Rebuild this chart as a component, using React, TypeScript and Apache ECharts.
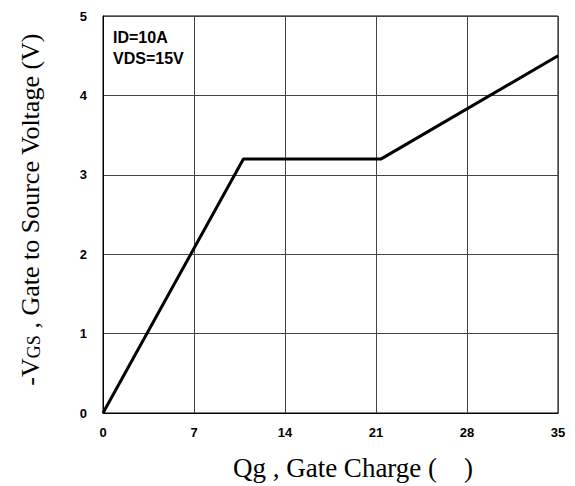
import React, { useEffect, useRef } from "react";
import * as echarts from "echarts";

const qg = [0, 10.8, 21.4, 35];
const vgs = [0, 3.2, 3.2, 4.5];
const xTicks = [0, 7, 14, 21, 28, 35];
const yTicks = [0, 1, 2, 3, 4, 5];
const notes = ["ID=10A", "VDS=15V"];

export default function App() {
  const ref = useRef<HTMLDivElement>(null);
  useEffect(() => {
    if (!ref.current) return;
    const chart = echarts.init(ref.current, undefined, { renderer: "svg" });
    const serif = "'Liberation Serif', 'Times New Roman', serif";
    const sans = "'Liberation Sans', Arial, sans-serif";
    chart.setOption({
      animation: false,
      backgroundColor: "#fff",
      grid: {
        left: 103,
        right: 17,
        top: 16,
        bottom: 72,
        show: true,
        borderColor: "#000",
        borderWidth: 1,
        containLabel: false,
      },
      xAxis: {
        type: "value",
        min: xTicks[0],
        max: xTicks[xTicks.length - 1],
        interval: 7,
        name: "Qg , Gate Charge (\u00A0\u00A0\u00A0\u00A0)",
        nameLocation: "middle",
        nameGap: 41,
        nameTextStyle: {
          fontFamily: serif,
          fontSize: 27,
          color: "#000",
          padding: [0, 0, 0, 45],
        },
        axisLine: { show: true, lineStyle: { color: "#000", width: 1 } },
        axisTick: { show: false },
        axisLabel: {
          color: "#000",
          fontFamily: sans,
          fontWeight: "bold",
          fontSize: 13,
          margin: 13,
        },
        splitLine: { show: true, lineStyle: { color: "#444", width: 1 } },
      },
      yAxis: {
        type: "value",
        min: yTicks[0],
        max: yTicks[yTicks.length - 1],
        interval: 1,
        name: "{a|-V}{b|GS}{a| , Gate to Source Voltage (V)}",
        nameLocation: "middle",
        nameRotate: 90,
        nameGap: 60,
        nameTextStyle: {
          color: "#000",
          padding: [0, 0, 0, 10],
          rich: {
            a: { fontFamily: serif, fontSize: 26, color: "#000", verticalAlign: "bottom", lineHeight: 28 },
            b: { fontFamily: serif, fontSize: 18, color: "#000", verticalAlign: "bottom", lineHeight: 20 },
          },
        },
        axisLine: { show: true, lineStyle: { color: "#000", width: 1 } },
        axisTick: { show: false },
        axisLabel: {
          color: "#000",
          fontFamily: sans,
          fontWeight: "bold",
          fontSize: 13,
          margin: 16,
        },
        splitLine: { show: true, lineStyle: { color: "#444", width: 1 } },
      },
      graphic: [
        {
          type: "text",
          left: 113,
          top: 27,
          style: {
            text: notes.join("\n"),
            fontFamily: sans,
            fontWeight: "bold",
            fontSize: 16,
            lineHeight: 21,
            fill: "#000",
          },
        },
      ],
      series: [
        {
          type: "line",
          data: qg.map((x, i) => [x, vgs[i]]),
          showSymbol: false,
          symbol: "none",
          lineStyle: { color: "#000", width: 3 },
        },
      ],
    });
    return () => chart.dispose();
  }, []);
  return (
    <div
      ref={ref}
      style={{ position: "absolute", left: 0, top: 0, width: 575, height: 486 }}
    />
  );
}
